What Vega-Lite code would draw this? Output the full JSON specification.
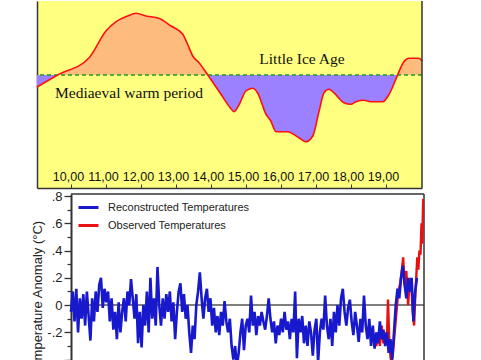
{
  "$schema": "https://vega.github.io/schema/vega-lite/v6.json",
  "padding": {"left": 31, "top": 0, "right": 0, "bottom": 0},
  "background": "white",
  "bounds": "flush",
  "spacing": 6,
  "resolve": {"legend": {"color": "independent"}, "scale": {"color": "independent"}},
  "config": {"view": {"stroke": null}, "axis": {"grid": false}},
  "datasets": {
    "curve": [
      {"year": 903, "v": -1.2}, {"year": 962, "v": 0}, {"year": 1052, "v": 1.73}, {"year": 1100, "v": 4.4},
      {"year": 1129, "v": 5.33}, {"year": 1162, "v": 5.9}, {"year": 1186, "v": 6.17}, {"year": 1214, "v": 5.9},
      {"year": 1251, "v": 5.67}, {"year": 1286, "v": 4.9}, {"year": 1319, "v": 4.1}, {"year": 1333, "v": 3.1},
      {"year": 1348, "v": 1.9}, {"year": 1366, "v": 1.23}, {"year": 1391, "v": 0}, {"year": 1430, "v": -2.0},
      {"year": 1455, "v": -3.27}, {"year": 1466, "v": -3.67}, {"year": 1480, "v": -3.0}, {"year": 1500, "v": -1.6},
      {"year": 1519, "v": -1.33}, {"year": 1533, "v": -1.77}, {"year": 1557, "v": -3.9}, {"year": 1571, "v": -4.6},
      {"year": 1586, "v": -5.67}, {"year": 1619, "v": -5.67}, {"year": 1648, "v": -6.2}, {"year": 1671, "v": -6.67},
      {"year": 1691, "v": -6.1}, {"year": 1709, "v": -3.6}, {"year": 1723, "v": -1.77}, {"year": 1737, "v": -1.43},
      {"year": 1751, "v": -1.77}, {"year": 1780, "v": -2.77}, {"year": 1800, "v": -2.93}, {"year": 1814, "v": -2.67},
      {"year": 1837, "v": -2.53}, {"year": 1857, "v": -2.67}, {"year": 1891, "v": -2.67}, {"year": 1909, "v": -1.93},
      {"year": 1934, "v": 0.07}, {"year": 1951, "v": 1.33}, {"year": 1966, "v": 1.67}, {"year": 1994, "v": 1.67},
      {"year": 2003, "v": 1.4}
    ],
    "recon": [
      {"year": 1000, "t": -0.05}, {"year": 1005, "t": 0.1}, {"year": 1010, "t": -0.12}, {"year": 1015, "t": 0.12}, {"year": 1020, "t": -0.2},
      {"year": 1025, "t": 0.05}, {"year": 1030, "t": -0.1}, {"year": 1035, "t": 0.08}, {"year": 1040, "t": -0.15}, {"year": 1045, "t": 0.1},
      {"year": 1050, "t": -0.08}, {"year": 1055, "t": -0.26}, {"year": 1060, "t": 0.05}, {"year": 1065, "t": -0.12}, {"year": 1070, "t": 0.1},
      {"year": 1075, "t": -0.05}, {"year": 1080, "t": 0.15}, {"year": 1085, "t": 0.2}, {"year": 1090, "t": -0.02}, {"year": 1095, "t": 0.12},
      {"year": 1100, "t": 0.02}, {"year": 1105, "t": 0.1}, {"year": 1110, "t": -0.12}, {"year": 1115, "t": 0.05}, {"year": 1120, "t": -0.18},
      {"year": 1125, "t": -0.05}, {"year": 1130, "t": -0.25}, {"year": 1135, "t": 0.02}, {"year": 1140, "t": -0.2}, {"year": 1145, "t": -0.05},
      {"year": 1150, "t": 0.05}, {"year": 1155, "t": -0.12}, {"year": 1160, "t": 0.1}, {"year": 1165, "t": 0.0}, {"year": 1170, "t": 0.19},
      {"year": 1175, "t": 0.05}, {"year": 1180, "t": -0.1}, {"year": 1185, "t": 0.08}, {"year": 1190, "t": -0.28}, {"year": 1195, "t": -0.05},
      {"year": 1200, "t": -0.31}, {"year": 1205, "t": 0.0}, {"year": 1210, "t": -0.15}, {"year": 1215, "t": 0.1}, {"year": 1220, "t": -0.2},
      {"year": 1225, "t": 0.2}, {"year": 1230, "t": -0.1}, {"year": 1235, "t": 0.05}, {"year": 1240, "t": -0.15}, {"year": 1245, "t": 0.28},
      {"year": 1250, "t": 0.0}, {"year": 1255, "t": -0.15}, {"year": 1260, "t": 0.05}, {"year": 1265, "t": -0.1}, {"year": 1270, "t": 0.08},
      {"year": 1275, "t": -0.05}, {"year": 1280, "t": 0.1}, {"year": 1285, "t": -0.12}, {"year": 1290, "t": 0.02}, {"year": 1295, "t": -0.25},
      {"year": 1300, "t": -0.05}, {"year": 1305, "t": 0.1}, {"year": 1310, "t": 0.16}, {"year": 1315, "t": -0.05}, {"year": 1320, "t": 0.08},
      {"year": 1325, "t": -0.1}, {"year": 1330, "t": 0.0}, {"year": 1335, "t": -0.2}, {"year": 1340, "t": -0.35}, {"year": 1345, "t": -0.15},
      {"year": 1350, "t": -0.25}, {"year": 1355, "t": 0.0}, {"year": 1360, "t": 0.1}, {"year": 1365, "t": 0.24}, {"year": 1370, "t": 0.05},
      {"year": 1375, "t": -0.1}, {"year": 1380, "t": 0.05}, {"year": 1385, "t": 0.12}, {"year": 1390, "t": -0.05}, {"year": 1395, "t": 0.05},
      {"year": 1400, "t": -0.15}, {"year": 1405, "t": -0.02}, {"year": 1410, "t": -0.2}, {"year": 1415, "t": -0.08}, {"year": 1420, "t": -0.22},
      {"year": 1425, "t": -0.05}, {"year": 1430, "t": -0.15}, {"year": 1435, "t": 0.03}, {"year": 1440, "t": -0.12}, {"year": 1445, "t": -0.2},
      {"year": 1450, "t": -0.1}, {"year": 1455, "t": -0.3}, {"year": 1460, "t": -0.4}, {"year": 1465, "t": -0.3}, {"year": 1470, "t": -0.45},
      {"year": 1475, "t": -0.35}, {"year": 1480, "t": -0.2}, {"year": 1485, "t": -0.1}, {"year": 1490, "t": -0.33}, {"year": 1495, "t": -0.15},
      {"year": 1500, "t": -0.1}, {"year": 1505, "t": -0.2}, {"year": 1510, "t": 0.07}, {"year": 1515, "t": -0.15}, {"year": 1520, "t": -0.05},
      {"year": 1525, "t": -0.22}, {"year": 1530, "t": -0.08}, {"year": 1535, "t": -0.15}, {"year": 1540, "t": -0.05}, {"year": 1545, "t": -0.12},
      {"year": 1550, "t": -0.18}, {"year": 1555, "t": -0.08}, {"year": 1560, "t": 0.05}, {"year": 1565, "t": -0.1}, {"year": 1570, "t": -0.2},
      {"year": 1575, "t": -0.12}, {"year": 1580, "t": -0.28}, {"year": 1585, "t": -0.15}, {"year": 1590, "t": -0.22}, {"year": 1595, "t": -0.1},
      {"year": 1600, "t": -0.2}, {"year": 1605, "t": -0.05}, {"year": 1610, "t": -0.18}, {"year": 1615, "t": -0.12}, {"year": 1620, "t": -0.25},
      {"year": 1625, "t": -0.1}, {"year": 1630, "t": -0.2}, {"year": 1635, "t": 0.1}, {"year": 1640, "t": -0.39}, {"year": 1645, "t": -0.1},
      {"year": 1650, "t": -0.2}, {"year": 1655, "t": -0.08}, {"year": 1660, "t": -0.28}, {"year": 1665, "t": -0.15}, {"year": 1670, "t": -0.3},
      {"year": 1675, "t": -0.12}, {"year": 1680, "t": -0.2}, {"year": 1685, "t": -0.37}, {"year": 1690, "t": -0.18}, {"year": 1695, "t": -0.1},
      {"year": 1700, "t": -0.42}, {"year": 1705, "t": -0.2}, {"year": 1710, "t": -0.1}, {"year": 1715, "t": -0.18}, {"year": 1720, "t": 0.07},
      {"year": 1725, "t": -0.15}, {"year": 1730, "t": -0.25}, {"year": 1735, "t": -0.1}, {"year": 1740, "t": -0.3}, {"year": 1745, "t": -0.05},
      {"year": 1750, "t": -0.2}, {"year": 1755, "t": 0.0}, {"year": 1760, "t": -0.15}, {"year": 1765, "t": 0.05}, {"year": 1770, "t": 0.12},
      {"year": 1775, "t": -0.05}, {"year": 1780, "t": -0.15}, {"year": 1785, "t": -0.02}, {"year": 1790, "t": 0.04}, {"year": 1795, "t": -0.12},
      {"year": 1800, "t": -0.22}, {"year": 1805, "t": -0.05}, {"year": 1810, "t": -0.15}, {"year": 1815, "t": -0.27}, {"year": 1820, "t": -0.1},
      {"year": 1825, "t": -0.2}, {"year": 1830, "t": 0.07}, {"year": 1835, "t": -0.15}, {"year": 1840, "t": -0.25}, {"year": 1845, "t": -0.1},
      {"year": 1850, "t": -0.3}, {"year": 1855, "t": -0.15}, {"year": 1860, "t": -0.32}, {"year": 1865, "t": -0.2}, {"year": 1870, "t": -0.28},
      {"year": 1875, "t": -0.12}, {"year": 1880, "t": -0.25}, {"year": 1885, "t": -0.18}, {"year": 1890, "t": -0.3}, {"year": 1895, "t": -0.2},
      {"year": 1900, "t": -0.35}, {"year": 1905, "t": -0.25}, {"year": 1910, "t": -0.4}, {"year": 1915, "t": -0.2}, {"year": 1920, "t": 0.0},
      {"year": 1925, "t": 0.12}, {"year": 1930, "t": 0.05}, {"year": 1935, "t": 0.2}, {"year": 1940, "t": 0.29}, {"year": 1945, "t": 0.15},
      {"year": 1950, "t": 0.05}, {"year": 1955, "t": 0.2}, {"year": 1960, "t": 0.1}, {"year": 1965, "t": 0.2}, {"year": 1970, "t": -0.12},
      {"year": 1975, "t": 0.1}, {"year": 1980, "t": 0.2}
    ],
    "obs": [
      {"year": 1860, "t": -0.25}, {"year": 1865, "t": -0.3}, {"year": 1870, "t": -0.2}, {"year": 1875, "t": -0.3}, {"year": 1880, "t": -0.15},
      {"year": 1885, "t": -0.28}, {"year": 1890, "t": -0.2}, {"year": 1895, "t": -0.25}, {"year": 1898, "t": 0.04}, {"year": 1902, "t": -0.3},
      {"year": 1907, "t": -0.42}, {"year": 1912, "t": -0.35}, {"year": 1917, "t": -0.2}, {"year": 1922, "t": -0.05}, {"year": 1927, "t": 0.1},
      {"year": 1932, "t": 0.15}, {"year": 1937, "t": 0.25}, {"year": 1941, "t": 0.35}, {"year": 1945, "t": 0.15}, {"year": 1950, "t": 0.25},
      {"year": 1955, "t": 0.0}, {"year": 1960, "t": 0.2}, {"year": 1965, "t": 0.1}, {"year": 1968, "t": -0.05}, {"year": 1972, "t": -0.15},
      {"year": 1975, "t": 0.05}, {"year": 1978, "t": 0.2}, {"year": 1981, "t": 0.35}, {"year": 1984, "t": 0.26}, {"year": 1987, "t": 0.4},
      {"year": 1990, "t": 0.37}, {"year": 1993, "t": 0.6}, {"year": 1995, "t": 0.45}, {"year": 1997, "t": 0.7}, {"year": 1998, "t": 0.78}
    ]
  },
  "vconcat": [
    {
      "width": 385,
      "height": 187,
      "view": {"fill": "#FFFF80", "stroke": null},
      "layer": [
        {
          "data": {"name": "curve"},
          "mark": {
            "type": "area",
            "interpolate": "monotone",
            "fill": {
              "gradient": "linear", "x1": 0, "y1": 0, "x2": 0, "y2": 1,
              "stops": [
                {"offset": 0, "color": "#FDBB7E"},
                {"offset": 0.4805, "color": "#FDBB7E"},
                {"offset": 0.4805, "color": "#9B80FF"},
                {"offset": 1, "color": "#9B80FF"}
              ]
            }
          },
          "encoding": {
            "x": {
              "field": "year", "type": "quantitative",
              "scale": {"domain": [903, 2003], "nice": false, "zero": false},
              "axis": {
                "values": [1000, 1100, 1200, 1300, 1400, 1500, 1600, 1700, 1800, 1900],
                "labelExpr": "format(datum.value / 100, 'd') + ',00'",
                "ticks": true, "tickSize": -4, "tickColor": "#333", "tickWidth": 1,
                "domain": true, "domainColor": "#333", "domainWidth": 1.5,
                "labelPadding": -8, "labelBaseline": "middle", "labelOffset": -3,
                "labelFont": "Liberation Sans",
                "labelFontSize": 12.5, "labelColor": "#111", "labelFlush": false, "labelOverlap": false,
                "title": null
              }
            },
            "y": {
              "field": "v", "type": "quantitative",
              "scale": {"domain": [-11.3, 7.4], "nice": false, "zero": false},
              "axis": {"domain": true, "domainColor": "#333", "domainWidth": 1.5, "ticks": false, "labels": false, "title": null}
            },
            "y2": {"datum": 0}
          }
        },
        {
          "data": {"values": [{}]},
          "mark": {"type": "rule", "color": "#1E9A1E", "strokeDash": [4, 3], "strokeWidth": 1.5},
          "encoding": {"y": {"datum": 0, "type": "quantitative"}}
        },
        {
          "data": {"name": "curve"},
          "mark": {"type": "line", "interpolate": "monotone", "color": "#FF1010", "strokeWidth": 1.6},
          "encoding": {
            "x": {"field": "year", "type": "quantitative"},
            "y": {"field": "v", "type": "quantitative"}
          }
        },
        {
          "data": {"values": [{}]},
          "mark": {"type": "text", "text": "Little Ice Age", "font": "Liberation Serif", "fontSize": 15.5, "baseline": "alphabetic", "align": "center", "color": "#111"},
          "encoding": {"x": {"datum": 1660, "type": "quantitative"}, "y": {"datum": 1.1, "type": "quantitative"}}
        },
        {
          "data": {"values": [{}]},
          "mark": {"type": "text", "text": "Mediaeval warm period", "font": "Liberation Serif", "fontSize": 15.5, "baseline": "alphabetic", "align": "center", "color": "#111"},
          "encoding": {"x": {"datum": 1166, "type": "quantitative"}, "y": {"datum": -2.3, "type": "quantitative"}}
        },
        {
          "data": {"values": [{}]},
          "mark": {"type": "rule", "color": "#333", "strokeWidth": 1.5},
          "encoding": {"x": {"datum": 2003, "type": "quantitative"}}
        }
      ]
    },
    {
      "width": 387,
      "height": 167,
      "resolve": {"axis": {"y": "independent"}},
      "layer": [
        {
          "data": {"values": [{}]},
          "mark": {"type": "rule", "color": "#555", "strokeWidth": 1.5},
          "encoding": {
            "x": {"datum": 1000, "type": "quantitative", "scale": {"domain": [903.7, 2000], "nice": false, "zero": false}, "axis": null},
            "x2": {"datum": 2000},
            "y": {
              "datum": 0, "type": "quantitative",
              "scale": {"domain": [-0.41, 0.815], "nice": false, "zero": false},
              "axis": {
                "orient": "left", "offset": -34,
                "values": [-0.4, -0.3, -0.1, 0.1, 0.3, 0.5, 0.7],
                "labels": false, "domain": false, "tickSize": 4, "tickColor": "#333", "tickWidth": 1.2,
                "title": null, "grid": false
              }
            }
          }
        },
        {
          "data": {"values": [{}]},
          "mark": {"type": "rule", "color": "#333", "strokeWidth": 1.5},
          "encoding": {
            "x": {"datum": 1000, "type": "quantitative", "axis": null},
            "x2": {"datum": 2000},
            "y": {"datum": 0.815, "type": "quantitative", "axis": null}
          }
        },
        {
          "data": {"values": [{}]},
          "mark": {"type": "rule", "color": "#333", "strokeWidth": 1.5},
          "encoding": {"x": {"datum": 2000, "type": "quantitative", "axis": null}}
        },
        {
          "data": {"name": "obs"},
          "mark": {"type": "line", "strokeWidth": 2.4, "clip": true},
          "encoding": {
            "x": {"field": "year", "type": "quantitative", "axis": null},
            "y": {"field": "t", "type": "quantitative", "axis": null},
            "color": {"datum": "Observed Temperatures", "type": "nominal"}
          }
        },
        {
          "data": {"name": "recon"},
          "mark": {"type": "line", "strokeWidth": 2.6, "clip": true},
          "encoding": {
            "x": {"field": "year", "type": "quantitative", "axis": null},
            "y": {
              "field": "t", "type": "quantitative",
              "axis": {
                "orient": "left", "offset": -34,
                "values": [-0.4, -0.2, 0, 0.2, 0.4, 0.6, 0.8],
                "labelExpr": "datum.value < -0.3 ? '' : datum.value == 0 ? '0' : (datum.value < 0 ? '-' : '') + replace(format(abs(datum.value), '.1f'), '0.', '.')",
                "domainColor": "#333", "domainWidth": 2, "tickSize": 7, "tickColor": "#333", "tickWidth": 1.3,
                "labelFont": "Liberation Sans", "labelFontSize": 13, "labelColor": "#222", "labelPadding": 2,
                "title": "Temperature Anomaly (°C)", "titleFont": "Liberation Sans", "titleFontSize": 13,
                "titleFontWeight": "normal", "titleColor": "#222", "titleY": 103, "titlePadding": 2, "grid": false
              }
            },
            "color": {
              "datum": "Reconstructed Temperatures", "type": "nominal",
              "scale": {"domain": ["Reconstructed Temperatures", "Observed Temperatures"], "range": ["#1818cc", "#e81010"]},
              "legend": {
                "orient": "none", "legendX": 40, "legendY": 2, "title": null,
                "symbolType": "stroke", "symbolSize": 400, "symbolStrokeWidth": 3,
                "labelFont": "Liberation Sans",
                "labelFontSize": 11, "labelColor": "#222", "labelOffset": 8, "rowPadding": -3, "padding": 0, "labelLimit": 300
              }
            }
          }
        }
      ]
    }
  ]
}
